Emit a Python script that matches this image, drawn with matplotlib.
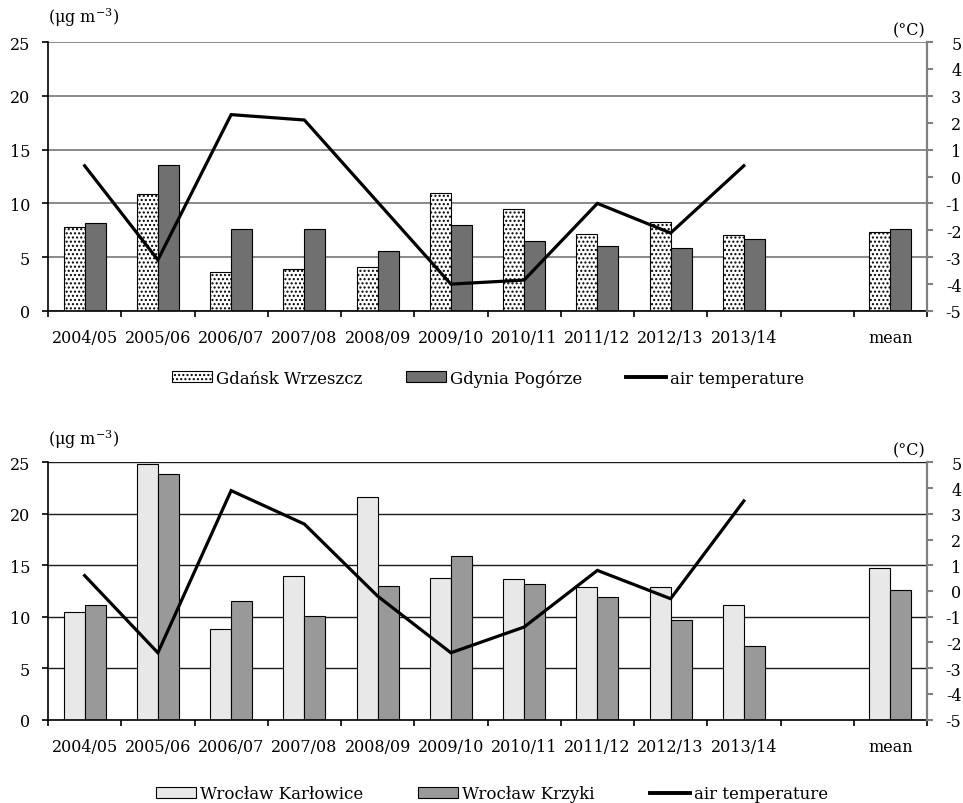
import numpy as np
import matplotlib
matplotlib.use("Agg")
import matplotlib.pyplot as plt
from matplotlib.patches import Patch
from matplotlib.lines import Line2D

plt.rcParams['font.family'] = ['DejaVu Serif']
plt.rcParams['mathtext.fontset'] = 'dejavuserif'
plt.rcParams['font.size'] = 11.5
plt.rcParams['hatch.linewidth'] = 1.0

categories = ['2004/05', '2005/06', '2006/07', '2007/08', '2008/09', '2009/10',
              '2010/11', '2011/12', '2012/13', '2013/14', '', 'mean']

gdansk = [7.8, 10.9, 3.6, 3.9, 4.1, 11.0, 9.5, 7.2, 8.3, 7.1, np.nan, 7.3]
gdynia = [8.2, 13.6, 7.6, 7.6, 5.6, 8.0, 6.5, 6.0, 5.9, 6.7, np.nan, 7.6]
temp_top = [0.4, -3.1, 2.3, 2.1, -0.95, -4.0, -3.85, -1.0, -2.1, 0.4]

karlowice = [10.5, 24.8, 8.8, 14.0, 21.6, 13.8, 13.7, 12.9, 12.9, 11.1, np.nan, 14.7]
krzyki = [11.1, 23.9, 11.5, 10.1, 13.0, 15.9, 13.2, 11.9, 9.7, 7.2, np.nan, 12.6]
temp_bottom = [0.6, -2.4, 3.9, 2.6, -0.2, -2.4, -1.4, 0.8, -0.3, 3.5]

left_ticks = [0, 5, 10, 15, 20, 25]
right_ticks = [-5, -4, -3, -2, -1, 0, 1, 2, 3, 4, 5]
right_labels = ['-5', '-4', '-3', '-2', '-1', '0', '1', '2', '3', '4', '5']

W, H = 963, 804
fig = plt.figure(figsize=(W / 100, H / 100), dpi=100)

x = np.arange(len(categories))
bw = 0.287
PX = 100 / 72


def make_panel(top_px, bot_px, s1, s2, temp, style1, style2, gridcolor, gridlw):
    ax = fig.add_axes([48 / W, 1 - bot_px / H, 879 / W, (bot_px - top_px) / H])
    ax.bar(x - bw / 2, s1, width=bw, edgecolor='black', linewidth=0.8, zorder=2, **style1)
    ax.bar(x + bw / 2, s2, width=bw, edgecolor='black', linewidth=0.8, zorder=2, **style2)
    ax.set_xlim(-0.5, len(categories) - 0.5)
    ax.set_ylim(0, 25)
    ax.set_yticks(left_ticks)
    ax.yaxis.grid(True, color=gridcolor, linewidth=gridlw)
    ax.set_axisbelow(True)
    for s in ['top', 'right']:
        ax.spines[s].set_visible(False)
    for s in ['left', 'bottom']:
        ax.spines[s].set_linewidth(1.2)
        ax.spines[s].set_color('black')
    ax.set_xticks(np.arange(-0.5, len(categories)), labels=[])
    ax.set_xticks(x, labels=categories, minor=True)
    ax.tick_params(axis='x', which='major', length=6 / PX, width=1.2, direction='out')
    ax.tick_params(axis='x', which='minor', length=0, pad=13)
    ax.tick_params(axis='y', length=6 / PX, width=1.2, direction='out', pad=8.5)

    axr = ax.twinx()
    axr.plot(x[:len(temp)], temp, color='black', linewidth=2.3, solid_joinstyle='miter', zorder=3)
    axr.set_ylim(-5, 5)
    axr.set_yticks(right_ticks, labels=right_labels)
    for s in ['top', 'left', 'bottom']:
        axr.spines[s].set_visible(False)
    axr.spines['right'].set_color('#808080')
    axr.spines['right'].set_linewidth(1.6)
    axr.tick_params(axis='y', length=6 / PX, width=1.5, color='#808080', direction='out', pad=20.5)
    for lbl in axr.get_yticklabels():
        lbl.set_horizontalalignment('right')
    return ax, axr


style_g = dict(facecolor='white', hatch='....')
style_d = dict(facecolor='#707070')
make_panel(43, 312, gdansk, gdynia, temp_top, style_g, style_d, '#808080', 1.3)

style_k = dict(facecolor='#e8e8e8')
style_z = dict(facecolor='#999999')
make_panel(463.3, 720.7, karlowice, krzyki, temp_bottom, style_k, style_z, '#1a1a1a', 1.0)

# unit labels
fig.text(48 / W, 1 - 18 / H, '(μg m$^{-3}$)', ha='left', va='center')
fig.text(925 / W, 1 - 31 / H, '(°C)', ha='right', va='center')
fig.text(48 / W, 1 - 440 / H, '(μg m$^{-3}$)', ha='left', va='center')
fig.text(925 / W, 1 - 451 / H, '(°C)', ha='right', va='center')

# legends
h1 = [Patch(facecolor='white', edgecolor='black', hatch='....', linewidth=0.8),
      Patch(facecolor='#707070', edgecolor='black', linewidth=0.8),
      Line2D([], [], color='black', linewidth=2.8)]
fig.legend(h1, ['Gdańsk Wrzeszcz', 'Gdynia Pogórze', 'air temperature'],
           loc='center', bbox_to_anchor=(488 / W, 1 - 379 / H), ncol=3, frameon=False,
           fontsize=12, handlelength=2.4, handleheight=0.65, handletextpad=0.25,
           columnspacing=2.6)

h2 = [Patch(facecolor='#e8e8e8', edgecolor='black', linewidth=0.8),
      Patch(facecolor='#999999', edgecolor='black', linewidth=0.8),
      Line2D([], [], color='black', linewidth=2.8)]
fig.legend(h2, ['Wrocław Karłowice', 'Wrocław Krzyki', 'air temperature'],
           loc='center', bbox_to_anchor=(492 / W, 1 - 795 / H), ncol=3, frameon=False,
           fontsize=12, handlelength=2.4, handleheight=0.65, handletextpad=0.25,
           columnspacing=3.3)

fig.savefig('out.png', dpi=100)
